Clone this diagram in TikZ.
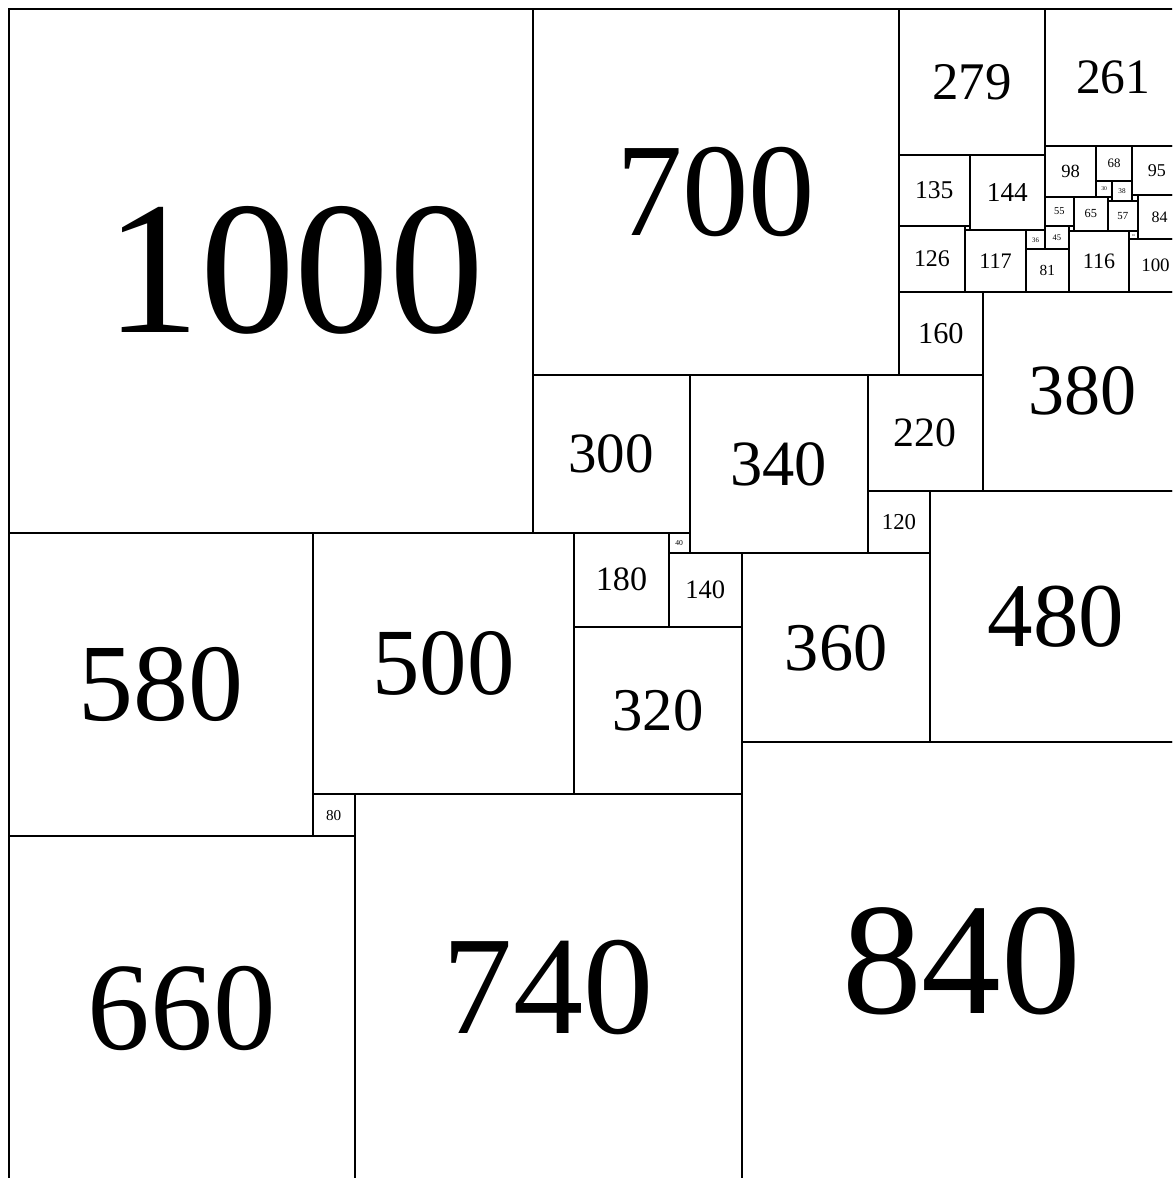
\documentclass[tikz,border=0pt]{standalone}
\usepackage{fontspec}
\setmainfont{Liberation Serif}
\begin{document}
\begin{tikzpicture}[x=0.01cm,y=-0.01cm,
  sq/.style={draw, line width=1.1pt},
  lab/.style={inner sep=0pt, anchor=center}]
\useasboundingbox (-17.2,-17.2) rectangle (2221.6,2233);
\clip (-17.2,-17.2) rectangle (2221.6,2233);
% tiny squares without visible labels
\foreach \x/\y/\s in {1826/414/9, 2099/359/8, 2145/356/11, 2024/414/10} {
  \draw[sq] (\x,\y) rectangle ++(\s,\s) coordinate (t\s);
}
\foreach \x/\y/\s/\dx in {
  0/0/1000/46, 1000/0/700/0, 1700/0/279/0, 1979/0/261/0,
  1700/279/135/0, 1835/279/144/0, 1700/414/126/0, 1826/423/117/0,
  1943/423/36/0, 1979/414/45/0, 1943/459/81/0,
  1979/261/98/0, 2077/261/68/0, 2145/261/95/0, 2077/329/30/0, 2107/329/38/0,
  1979/359/55/0, 2034/359/65/0, 2099/367/57/0,
  2156/356/84/0, 2140/424/16/0, 2024/424/116/0, 2140/440/100/0,
  1700/540/160/0, 1860/540/380/0,
  1000/700/300/0, 1300/700/340/0, 1640/700/220/0, 1640/920/120/0, 1760/920/480/0,
  1260/1000/40/0, 1080/1000/180/0, 1260/1040/140/0, 1400/1040/360/0, 1080/1180/320/0,
  0/1000/580/0, 580/1000/500/0, 580/1500/80/0, 0/1580/660/0, 660/1500/740/0,
  1400/1400/840/0} {
  \draw[sq] (\x,\y) rectangle ++(\s,\s);
  \pgfmathsetmacro\fs{0.362*\s*0.28453}
  \node[lab, font=\fontsize{\fs pt}{\fs pt}\selectfont] (q\s) at (\x+\s/2+\dx,\y+\s/2) {\s};
}
\end{tikzpicture}
\end{document}
